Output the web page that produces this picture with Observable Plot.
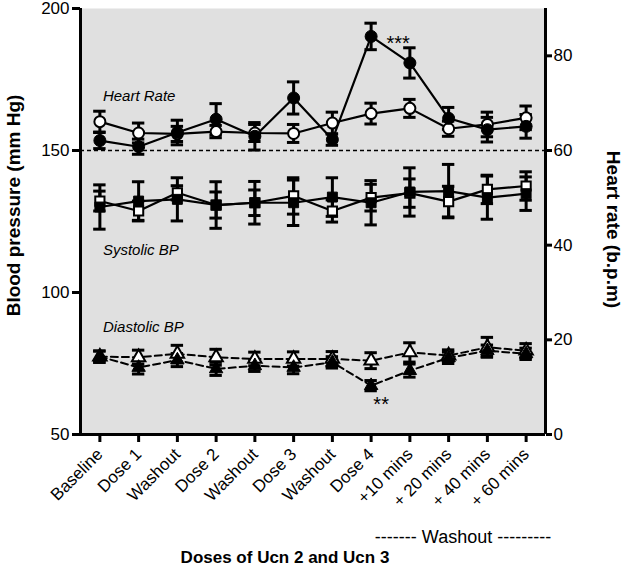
<!DOCTYPE html>
<html><head><meta charset="utf-8">
<script src="https://cdn.jsdelivr.net/npm/d3@7"></script>
<script src="https://cdn.jsdelivr.net/npm/@observablehq/plot@0.6"></script>
<style>body{margin:0;background:#fff} svg{display:block}</style>
</head><body><div id="chart"></div>
<script>
// categories (x axis)
const categories = ["Baseline","Dose 1","Washout","Dose 2","Washout","Dose 3","Washout","Dose 4","+10 mins","+ 20 mins","+ 40 mins","+ 60 mins"];

// Heart rate (b.p.m) — right axis
const hrFilled    = [62.1, 60.8, 63.8, 66.6, 63.0, 71.1, 62.3, 84.1, 78.5, 66.8, 64.4, 65.1];
const hrFilledErr = [1.7, 1.6, 2.6, 3.3, 2.9, 3.4, 1.2, 2.8, 3.2, 2.3, 2.6, 2.5];
const hrOpen      = [66.1, 63.7, 63.5, 64.0, 63.7, 63.6, 65.8, 67.8, 68.9, 64.6, 65.5, 66.9];
const hrOpenErr   = [2.2, 2.1, 1.6, 1.3, 1.8, 1.9, 2.3, 2.2, 1.9, 1.6, 2.6, 2.5];

// Systolic BP (mm Hg) — left axis
const sysFilled    = [130.1, 132.2, 132.8, 130.8, 131.6, 131.6, 133.6, 131.6, 135.4, 135.7, 133.4, 134.8];
const sysFilledErr = [7.8, 6.8, 7.6, 8.2, 7.5, 8.0, 6.8, 7.8, 8.5, 9.4, 7.6, 5.9];
const sysOpen      = [132.2, 128.7, 135.1, 130.8, 131.6, 134.0, 128.7, 133.4, 135.0, 132.0, 136.3, 137.5];
const sysOpenErr   = [3.5, 3.5, 2.5, 4.6, 4.5, 6.4, 3.9, 4.7, 5.0, 5.4, 5.0, 5.0];

// Diastolic BP (mm Hg) — left axis
const diaFilled    = [77.4, 73.6, 76.2, 73.1, 74.2, 73.6, 75.4, 67.2, 72.5, 77.0, 79.5, 78.4];
const diaFilledErr = [2.0, 2.3, 2.3, 2.3, 2.0, 2.2, 2.0, 1.8, 2.3, 2.0, 2.0, 2.0];
const diaOpen      = [77.4, 77.2, 78.4, 77.2, 76.6, 76.6, 76.6, 76.0, 78.9, 77.8, 80.7, 79.5];
const diaOpenErr   = [2.0, 2.5, 3.0, 2.8, 2.4, 2.5, 2.6, 2.8, 3.4, 2.0, 3.5, 2.5];

// axes
const bpTicks = [50, 100, 150, 200];
const hrTicks = [0, 20, 40, 60, 80];
const hrRef = 60;
const xDomain = [-0.5, categories.length - 0.5];
const yDomain = [50, 200];

// annotations
const seriesLabels = [
  {i: 0, v: 169.1, label: "Heart Rate"},
  {i: 0, v: 114.9, label: "Systolic BP"},
  {i: 0, v: 87.7, label: "Diastolic BP"}
];
const starsHR = [{i: 7, v: 187.6, label: "***"}];
const starsDBP = [{i: 7, v: 60.4, label: "**"}];
const washoutNote = [{i: 9.5, label: "------- Washout ---------"}];

// heart-rate to left-axis conversion (0–90 bpm ↔ 50–200 mm Hg)
const toBP = hr => 50 + hr * 150 / 90;
const fromBP = v => (v - 50) * 90 / 150;

function rows(vals, errs, conv = v => v) {
  return vals.map((v, i) => ({i, v: conv(v), lo: conv(v - errs[i]), hi: conv(v + errs[i])}));
}
const S = {
  hrF: rows(hrFilled, hrFilledErr, toBP),
  hrO: rows(hrOpen, hrOpenErr, toBP),
  sysF: rows(sysFilled, sysFilledErr),
  sysO: rows(sysOpen, sysOpenErr),
  diaF: rows(diaFilled, diaFilledErr),
  diaO: rows(diaOpen, diaOpenErr)
};
const BG = "#e0e0e0";
const capW = 0.16;

function errMarks(data) {
  return [
    Plot.ruleX(data, {x: "i", y1: "lo", y2: "hi", stroke: "black", strokeWidth: 3}),
    Plot.ruleY(data, {y: "lo", x1: d => d.i - capW, x2: d => d.i + capW, stroke: "black", strokeWidth: 3}),
    Plot.ruleY(data, {y: "hi", x1: d => d.i - capW, x2: d => d.i + capW, stroke: "black", strokeWidth: 3})
  ];
}

const chart = Plot.plot({
  width: 625, height: 568,
  marginLeft: 80, marginRight: 80, marginTop: 8, marginBottom: 134,
  style: {fontFamily: "Arial, 'Liberation Sans', sans-serif", fontSize: "17px", background: "white"},
  x: {domain: xDomain, label: null},
  y: {domain: yDomain, label: null},
  marks: [
    Plot.frame({fill: BG, stroke: "none"}),
    Plot.ruleY([toBP(hrRef)], {stroke: "black", strokeWidth: 1.6, strokeDasharray: "4,3"}),
    // lines
    Plot.line(S.diaF, {x: "i", y: "v", stroke: "black", strokeWidth: 2, strokeDasharray: "7,4"}),
    Plot.line(S.diaO, {x: "i", y: "v", stroke: "black", strokeWidth: 2, strokeDasharray: "7,4"}),
    Plot.line(S.sysF, {x: "i", y: "v", stroke: "black", strokeWidth: 2.2}),
    Plot.line(S.sysO, {x: "i", y: "v", stroke: "black", strokeWidth: 2.2}),
    Plot.line(S.hrF, {x: "i", y: "v", stroke: "black", strokeWidth: 2.2}),
    Plot.line(S.hrO, {x: "i", y: "v", stroke: "black", strokeWidth: 2.2}),
    // error bars
    ...errMarks(S.diaO), ...errMarks(S.diaF),
    ...errMarks(S.sysO), ...errMarks(S.sysF),
    ...errMarks(S.hrO), ...errMarks(S.hrF),
    // symbols
    Plot.dot(S.diaO, {x: "i", y: "v", symbol: "triangle", r: 5, fill: "white", stroke: "black", strokeWidth: 2}),
    Plot.dot(S.diaF, {x: "i", y: "v", symbol: "triangle", r: 5, fill: "black", stroke: "black", strokeWidth: 1}),
    Plot.dot(S.sysO, {x: "i", y: "v", symbol: "square", r: 5.2, fill: "white", stroke: "black", strokeWidth: 2}),
    Plot.dot(S.sysF, {x: "i", y: "v", symbol: "square", r: 5.6, fill: "black", stroke: "black", strokeWidth: 1}),
    Plot.dot(S.hrO, {x: "i", y: "v", r: 5.5, fill: "white", stroke: "black", strokeWidth: 2}),
    Plot.dot(S.hrF, {x: "i", y: "v", r: 6, fill: "black", stroke: "black", strokeWidth: 1}),
    // axis lines
    Plot.ruleX([xDomain[0]], {stroke: "black", strokeWidth: 3}),
    Plot.ruleX([xDomain[1]], {stroke: "black", strokeWidth: 3}),
    Plot.ruleY([yDomain[0]], {stroke: "black", strokeWidth: 3, x1: xDomain[0], x2: xDomain[1]}),
    // axes
    Plot.axisY({ticks: bpTicks, tickSize: 8, tickPadding: 3, strokeWidth: 3, fontSize: 17, label: null}),
    Plot.axisY({anchor: "right", ticks: hrTicks.map(toBP), tickFormat: v => Math.round(fromBP(v)), tickSize: 6, tickPadding: 2, strokeWidth: 3, fontSize: 17, label: null}),
    Plot.axisX({ticks: categories.map((c, i) => i), tickFormat: i => categories[i], tickRotate: -45, tickSize: 8, tickPadding: 9, strokeWidth: 3, fontSize: 17, label: null}),
    // in-plot labels
    Plot.text(seriesLabels, {x: "i", y: "v", text: "label", dx: 3, textAnchor: "start", fontStyle: "italic", fontSize: 15}),
    Plot.text(starsHR, {x: "i", y: "v", text: "label", dx: 27, fontSize: 20}),
    Plot.text(starsDBP, {x: "i", y: "v", text: "label", dx: 10, fontSize: 20}),
    // axis titles
    Plot.text(["Blood pressure (mm Hg)"], {frameAnchor: "left", dx: -67, dy: -16, rotate: -90, textAnchor: "middle", lineAnchor: "middle", fontWeight: "bold", fontSize: 19}),
    Plot.text(["Heart rate (b.p.m)"], {frameAnchor: "right", dx: 68, dy: 8, rotate: 90, textAnchor: "middle", lineAnchor: "middle", fontWeight: "bold", fontSize: 19}),
    Plot.text(["Doses of Ucn 2 and Ucn 3"], {frameAnchor: "bottom", dx: -28, dy: 123, lineAnchor: "middle", fontWeight: "bold", fontSize: 17}),
    Plot.text(washoutNote, {x: "i", text: "label", frameAnchor: "bottom", dy: 103, dx: -5, lineAnchor: "middle", fontSize: 18})
  ]
});
document.getElementById("chart").append(chart);
</script>
</body></html>
